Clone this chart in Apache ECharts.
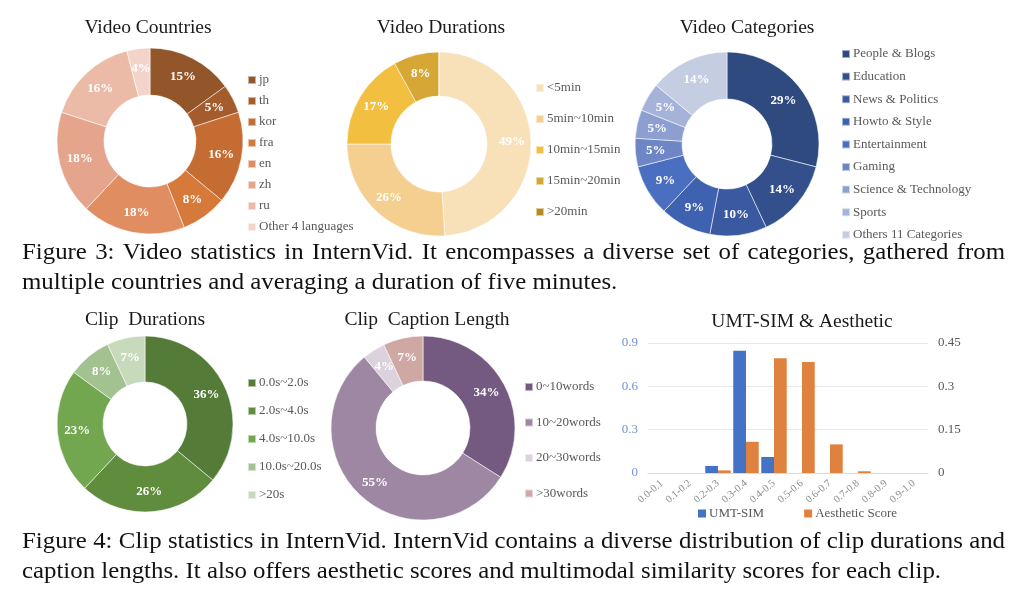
<!DOCTYPE html>
<html>
<head>
<meta charset="utf-8">
<script src="https://cdn.jsdelivr.net/npm/echarts/dist/echarts.min.js"></script>
<style>
  html, body { margin: 0; padding: 0; background: #fff; }
  #main { width: 1024px; height: 590px; }
</style>
</head>
<body>
<div id="main"></div>
<script>
// ---- data ----
const countryNames = ['jp', 'th', 'kor', 'fra', 'en', 'zh', 'ru', 'Other 4 languages'];
const countryValues = [15, 5, 16, 8, 18, 18, 16, 4];
const countryColors = ['#93552a', '#a55c2c', '#c46c32', '#d67a3b', '#e08d62', '#e4a58c', '#ecbba8', '#f2d4ca'];

const durNames = ['<5min', '5min~10min', '10min~15min', '15min~20min', '>20min'];
const durValues = [49, 26, 17, 8, 0];
const durColors = ['#f8e0b9', '#f5cf8f', '#f2bf41', '#d6a734', '#b88b22'];

const catNames = ['People & Blogs', 'Education', 'News & Politics', 'Howto & Style', 'Entertainment',
  'Gaming', 'Science & Technology', 'Sports', 'Others 11 Categories'];
const catValues = [29, 14, 10, 9, 9, 5, 5, 5, 14];
const catColors = ['#2f4a7e', '#33508d', '#3a59a0', '#3f62b0', '#4a6fc0', '#6f86c6', '#8c9fd0', '#a5b3da', '#c5cde3'];

const clipNames = ['0.0s~2.0s', '2.0s~4.0s', '4.0s~10.0s', '10.0s~20.0s', '>20s'];
const clipValues = [36, 26, 23, 8, 7];
const clipColors = ['#547b37', '#5f8c3d', '#72a64f', '#a2c28f', '#c7dabc'];

const capNames = ['0~10words', '10~20words', '20~30words', '>30words'];
const capValues = [34, 55, 4, 7];
const capColors = ['#745a80', '#9d87a3', '#dcd2de', '#cfa8a4'];

const binLabels = ['0.0-0.1', '0.1-0.2', '0.2-0.3', '0.3-0.4', '0.4-0.5', '0.5-0.6', '0.6-0.7', '0.7-0.8', '0.8-0.9', '0.9-1.0'];
const umtSim = [0, 0, 0.049, 0.847, 0.111, 0, 0, 0, 0, 0];
const aesthetic = [0, 0, 0.009, 0.108, 0.397, 0.384, 0.099, 0.006, 0, 0];

const captions = [
  'Figure 3: Video statistics in InternVid. It encompasses a diverse set of categories, gathered from',
  'multiple countries and averaging a duration of five minutes.',
  'Figure 4: Clip statistics in InternVid. InternVid contains a diverse distribution of clip durations and',
  'caption lengths. It also offers aesthetic scores and multimodal similarity scores for each clip.'
];

const SERIF = '"Liberation Serif", "DejaVu Serif", serif';

function donut(names, values, colors, center, radius) {
  return {
    type: 'pie',
    center: center,
    radius: radius,
    startAngle: 90,
    clockwise: true,
    avoidLabelOverlap: false,
    silent: true,
    label: {
      show: true, position: 'inside', formatter: '{c}%',
      color: '#fff', fontWeight: 'bold', fontSize: 13, fontFamily: SERIF
    },
    labelLine: { show: false },
    itemStyle: { borderColor: 'rgba(255,255,255,0.55)', borderWidth: 1 },
    data: names.map((n, i) => ({
      name: n,
      value: values[i],
      itemStyle: { color: colors[i] },
      label: values[i] === 0 ? { show: false } : undefined
    }))
  };
}

function sideLegend(names, left, top, gap) {
  return {
    data: names, orient: 'vertical', left: left, top: top, padding: 0,
    itemWidth: 8, itemHeight: 8, itemGap: gap, icon: 'rect',
    selectedMode: false,
    textStyle: { fontSize: 13, color: '#595959', fontFamily: SERIF, lineHeight: 14, padding: [0, 0, 0, -2] }
  };
}

function title(text, x, y) {
  return {
    type: 'text', x: x, y: y,
    style: { text: text, font: '19.5px ' + SERIF, fill: '#1a1a1a', align: 'center', verticalAlign: 'middle' }
  };
}

// caption lines; the full ones are spread across the page width
const CAP_FONT = '23px ' + SERIF;
const CAP_SCALE = 1.08;
const measure = document.createElement('canvas').getContext('2d');
function captionLine(text, y, justify) {
  const x0 = 22, x1 = 1005;
  const base = { font: CAP_FONT, fill: '#111', verticalAlign: 'middle' };
  if (!justify) {
    return [{ type: 'text', x: x0, y: y, scaleX: CAP_SCALE, style: Object.assign({ text: text }, base) }];
  }
  measure.font = CAP_FONT;
  const words = text.split(' ');
  const widths = words.map(w => measure.measureText(w).width * CAP_SCALE);
  const total = widths.reduce((a, b) => a + b, 0);
  const gap = (x1 - x0 - total) / (words.length - 1);
  let x = x0;
  return words.map((w, i) => {
    const el = { type: 'text', x: x, y: y, scaleX: CAP_SCALE, style: Object.assign({ text: w }, base) };
    x += widths[i] + gap;
    return el;
  });
}

const chart = echarts.init(document.getElementById('main'));

const option = {
  animation: false,
  backgroundColor: '#fff',
  legend: [
    sideLegend(countryNames, 247, 73, 7),
    sideLegend(durNames, 535, 81, 17),
    sideLegend(catNames, 841, 47, 8.6),
    sideLegend(clipNames, 247, 376, 14),
    sideLegend(capNames, 524, 380, 21.5),
    {
      data: ['UMT-SIM', 'Aesthetic Score'], orient: 'horizontal', left: 698, top: 507, padding: 0,
      itemWidth: 8, itemHeight: 8, itemGap: 40, icon: 'rect', selectedMode: false,
      textStyle: { fontSize: 13, color: '#595959', fontFamily: SERIF, padding: [0, 0, 0, -2] }
    }
  ],
  grid: { left: 648, right: 96, top: 343, bottom: 117 },
  xAxis: {
    type: 'category',
    data: binLabels,
    axisLine: { lineStyle: { color: '#d9d9d9' } },
    axisTick: { show: false },
    axisLabel: { interval: 0, rotate: 40, fontSize: 10.5, color: '#8c8c8c', fontFamily: SERIF, margin: 9 }
  },
  yAxis: [
    {
      type: 'value', min: 0, max: 0.9, interval: 0.3,
      axisLine: { show: false }, axisTick: { show: false },
      axisLabel: { color: '#7192d8', fontSize: 13, fontFamily: SERIF, margin: 10 },
      splitLine: { lineStyle: { color: '#e8e8e8' } }
    },
    {
      type: 'value', min: 0, max: 0.45, interval: 0.15, position: 'right',
      axisLine: { show: false }, axisTick: { show: false },
      axisLabel: { color: '#595959', fontSize: 13, fontFamily: SERIF, margin: 10 },
      splitLine: { show: false }
    }
  ],
  series: [
    donut(countryNames, countryValues, countryColors, [150, 141], [46, 93]),
    donut(durNames, durValues, durColors, [439, 144], [48, 92]),
    donut(catNames, catValues, catColors, [727, 144], [45, 92]),
    donut(clipNames, clipValues, clipColors, [145, 424], [42, 88]),
    donut(capNames, capValues, capColors, [423, 428], [47, 92]),
    {
      name: 'UMT-SIM', type: 'bar', yAxisIndex: 0, data: umtSim,
      itemStyle: { color: '#4472c4' }, barGap: '0%', barCategoryGap: '9%', silent: true
    },
    {
      name: 'Aesthetic Score', type: 'bar', yAxisIndex: 1, data: aesthetic,
      itemStyle: { color: '#e0823f' }, barGap: '0%', barCategoryGap: '9%', silent: true
    }
  ],
  graphic: [
    title('Video Countries', 148, 28),
    title('Video Durations', 441, 28),
    title('Video Categories', 747, 28),
    title('Clip  Durations', 145, 320),
    title('Clip  Caption Length', 427, 320),
    title('UMT-SIM & Aesthetic', 802, 322)
  ]
    .concat(captionLine(captions[0], 253, true))
    .concat(captionLine(captions[1], 283, false))
    .concat(captionLine(captions[2], 542, true))
    .concat(captionLine(captions[3], 572, false))
};

chart.setOption(option);
</script>
</body>
</html>
